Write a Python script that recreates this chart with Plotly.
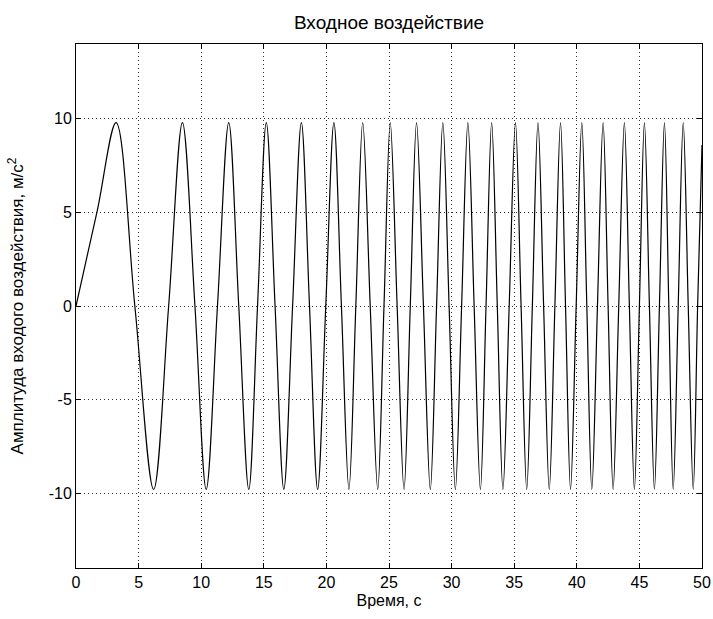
import plotly.graph_objects as go

# Points: start, extrema and zero crossings (t in s, value in m/s^2)
t_points = [0.0, 1.7, 3.2, 4.7, 6.2, 7.4, 8.5, 9.5, 10.4, 11.3, 12.2, 13.0, 13.8,
            14.5, 15.2, 15.9, 16.6, 17.3, 18.0, 18.65, 19.3, 19.95, 20.6, 21.2, 21.8,
            22.35, 22.9, 23.5, 24.1, 24.6, 25.1, 25.65, 26.2, 26.7, 27.2, 27.75, 28.3,
            28.8, 29.3, 29.8, 30.3, 30.8, 31.3, 31.8, 32.3, 32.75, 33.2, 33.65, 34.1,
            34.6, 35.1, 35.55, 36.0, 36.45, 36.9, 37.35, 37.8, 38.25, 38.7, 39.1, 39.5,
            39.95, 40.4, 40.8, 41.2, 41.65, 42.1, 42.5, 42.9, 43.35, 43.8, 44.2, 44.6,
            45.0, 45.4, 45.8, 46.2, 46.6, 47.0, 47.35, 47.7, 48.1, 48.5, 48.9, 49.3,
            49.65, 50.0]
y_points = [0.0, 5.1, 9.8, 0.0, -9.8, 0.0, 9.8, 0.0, -9.8, 0.0, 9.8, 0.0, -9.8,
            0.0, 9.8, 0.0, -9.8, 0.0, 9.8, 0.0, -9.8, 0.0, 9.8, 0.0, -9.8,
            0.0, 9.8, 0.0, -9.8, 0.0, 9.8, 0.0, -9.8, 0.0, 9.8, 0.0, -9.8,
            0.0, 9.8, 0.0, -9.8, 0.0, 9.8, 0.0, -9.8, 0.0, 9.8, 0.0, -9.8,
            0.0, 9.8, 0.0, -9.8, 0.0, 9.8, 0.0, -9.8, 0.0, 9.8, 0.0, -9.8,
            0.0, 9.8, 0.0, -9.8, 0.0, 9.8, 0.0, -9.8, 0.0, 9.8, 0.0, -9.8,
            0.0, 9.8, 0.0, -9.8, 0.0, 9.8, 0.0, -9.8, 0.0, 9.8, 0.0, -9.8,
            0.0, 8.6]

x_ticks = [0, 5, 10, 15, 20, 25, 30, 35, 40, 45, 50]
y_ticks = [-10, -5, 0, 5, 10]

title_text = "Входное воздействие"
x_label = "Время, с"
y_label = "Амплитуда входого воздействия, м/с<sup>2</sup>"

FONT = "Liberation Sans Narrow, Arial Narrow, Liberation Sans, Arial, sans-serif"

fig = go.Figure()
fig.add_trace(go.Scatter(x=t_points, y=y_points, mode="lines",
                         line=dict(color="black", width=1.2, shape="spline", smoothing=1.0),
                         showlegend=False, hoverinfo="skip"))

axis_common = dict(showline=True, linecolor="black", linewidth=1, mirror="ticks",
                   ticks="inside", ticklen=5, tickcolor="black", automargin=False,
                   showgrid=True, gridcolor="#333333", griddash="1px,3px", gridwidth=1,
                   zeroline=False, tickfont=dict(family=FONT, size=16, color="black"))

fig.update_xaxes(range=[0, 50], tickvals=x_ticks, ticktext=[str(v) for v in x_ticks],
                 ticklabeloverflow="allow",
                 title=dict(text=x_label, font=dict(family=FONT, size=16, color="black"), standoff=4),
                 **axis_common)
fig.update_yaxes(range=[-14, 14], tickvals=y_ticks, ticktext=[str(v) for v in y_ticks],
                 title=dict(text=y_label, font=dict(family=FONT, size=17, color="black"), standoff=20),
                 **axis_common)

fig.update_layout(
    width=713, height=619, autosize=False,
    margin=dict(l=76, r=11, t=44, b=51),
    paper_bgcolor="white", plot_bgcolor="white",
    title=dict(text=title_text, xref="paper", x=0.5, xanchor="center", y=0.964, yanchor="middle",
               automargin=False, font=dict(family=FONT, size=19, color="black")),
)

fig.write_html("out.html")
